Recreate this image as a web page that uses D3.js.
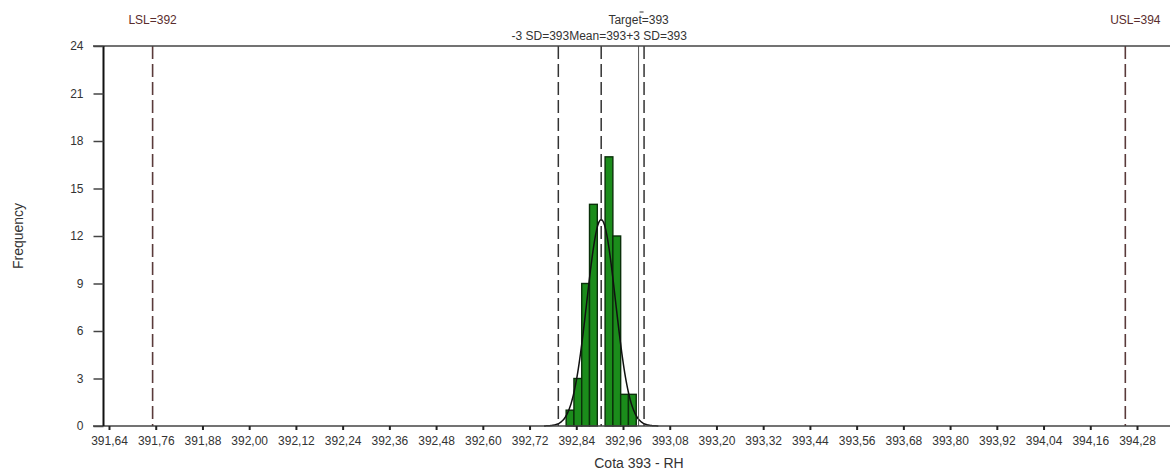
<!DOCTYPE html>
<html>
<head>
<meta charset="utf-8">
<script src="https://cdn.jsdelivr.net/npm/d3@7"></script>
<style>
  html, body { margin: 0; padding: 0; background: #fff; }
  svg { display: block; font-family: "Liberation Sans", Arial, sans-serif; }
</style>
</head>
<body>
<svg id="chart" width="1170" height="473"></svg>
<script>
// Histogram of "Cota 393 - RH" measurements
const binStart = 392.814;
const binWidth = 0.02;
const binCounts = [1, 3, 9, 14, 0, 17, 12, 2, 2];

// Process statistics and specification limits
const meanValue = 392.904;
const sdValue = 0.0367;
const lsl = 391.752;
const usl = 394.25;
const target = 393.0;

// Axis ticks
const xTicks = [391.64, 391.76, 391.88, 392.00, 392.12, 392.24, 392.36, 392.48,
  392.60, 392.72, 392.84, 392.96, 393.08, 393.20, 393.32, 393.44, 393.56,
  393.68, 393.80, 393.92, 394.04, 394.16, 394.28];
const yTicks = [0, 3, 6, 9, 12, 15, 18, 21, 24];

const svg = d3.select("#chart");
const W = 1170;

const x = d3.scaleLinear().domain([391.64, 394.28]).range([109, 1137]);
const y = d3.scaleLinear().domain([0, 24]).range([426, 46]);
const plotLeft = 103.5;
const plotTop = y(24), plotBottom = y(0);

const fmtInt = d3.format(".0f");
const fmtTick = v => d3.format(".2f")(v).replace(".", ",");

// Bars
const bins = binCounts.map((c, i) => ({ x0: binStart + i * binWidth, x1: binStart + (i + 1) * binWidth, count: c }));
svg.append("g").selectAll("rect")
  .data(bins.filter(b => b.count > 0))
  .join("rect")
  .attr("x", d => x(d.x0))
  .attr("width", d => x(d.x1) - x(d.x0))
  .attr("y", d => y(d.count))
  .attr("height", d => y(0) - y(d.count))
  .attr("fill", "#1b8c1b")
  .attr("stroke", "#0a300a")
  .attr("stroke-width", 1.4);

// Fitted normal curve scaled to the histogram
const total = d3.sum(binCounts);
const pdf = v => total * binWidth / (sdValue * Math.sqrt(2 * Math.PI)) * Math.exp(-0.5 * ((v - meanValue) / sdValue) ** 2);
const curveXs = d3.range(-4, 4.0001, 0.05).map(k => meanValue + k * sdValue);
svg.append("path")
  .datum(curveXs)
  .attr("fill", "none")
  .attr("stroke", "#111")
  .attr("stroke-width", 1.5)
  .attr("d", d3.line().x(v => x(v)).y(v => y(pdf(v))).curve(d3.curveBasis));

// Reference lines
const refLines = [
  { v: lsl, dash: "13,5", color: "#5a3a3a", w: 1.6 },
  { v: usl, dash: "13,5", color: "#5a3a3a", w: 1.6 },
  { v: meanValue - 3 * sdValue, dash: "13,5", color: "#333", w: 1.5 },
  { v: meanValue, dash: "13,5", color: "#333", w: 1.5 },
  { v: meanValue + 3 * sdValue, dash: "13,5", color: "#333", w: 1.5 },
  { v: target, dash: null, color: "#555", w: 1 }
];
svg.append("g").selectAll("line")
  .data(refLines)
  .join("line")
  .attr("x1", d => x(d.v)).attr("x2", d => x(d.v))
  .attr("y1", plotTop).attr("y2", plotBottom)
  .attr("stroke", d => d.color)
  .attr("stroke-width", d => d.w)
  .attr("stroke-dasharray", d => d.dash);

// Frame: top and bottom rules, left axis
svg.append("line").attr("x1", 93).attr("x2", W).attr("y1", plotTop).attr("y2", plotTop)
  .attr("stroke", "#444").attr("stroke-width", 1.5);
svg.append("line").attr("x1", 93).attr("x2", W).attr("y1", plotBottom).attr("y2", plotBottom)
  .attr("stroke", "#444").attr("stroke-width", 1.5);
svg.append("line").attr("x1", plotLeft).attr("x2", plotLeft).attr("y1", plotTop).attr("y2", plotBottom)
  .attr("stroke", "#111").attr("stroke-width", 2);

// Y axis
const yAxis = d3.axisLeft(y).tickValues(yTicks).tickSize(10).tickPadding(10).tickFormat(d3.format("d"));
const gy = svg.append("g").attr("transform", `translate(${plotLeft},0)`).call(yAxis);
gy.select(".domain").remove();
gy.selectAll(".tick line").attr("stroke", "#444").attr("stroke-width", 1.5);
gy.selectAll(".tick text").attr("font-size", 12).attr("fill", "#333")
  .attr("font-family", "Liberation Sans, Arial, sans-serif");

// X axis
const xAxis = d3.axisBottom(x).tickValues(xTicks).tickSize(4).tickPadding(6).tickFormat(fmtTick);
const gx = svg.append("g").attr("transform", `translate(0,${plotBottom})`).call(xAxis);
gx.select(".domain").remove();
gx.selectAll(".tick line").attr("stroke", "#222").attr("stroke-width", 2);
gx.selectAll(".tick text").attr("font-size", 12).attr("fill", "#333")
  .attr("font-family", "Liberation Sans, Arial, sans-serif");

// Axis titles
svg.append("text").attr("x", 639).attr("y", 468).attr("text-anchor", "middle")
  .attr("font-size", 14).attr("fill", "#333").text("Cota 393 - RH");
svg.append("text").attr("transform", `translate(23,${(plotTop + plotBottom) / 2}) rotate(-90)`)
  .attr("text-anchor", "middle").attr("font-size", 14).attr("fill", "#333").text("Frequency");

// Specification labels
svg.append("text").attr("x", x(lsl)).attr("y", 24).attr("text-anchor", "middle")
  .attr("font-size", 12).attr("fill", "#5a2d2d").text(`LSL=${fmtInt(lsl)}`);
svg.append("text").attr("x", x(usl) + 10).attr("y", 24).attr("text-anchor", "middle")
  .attr("font-size", 12).attr("fill", "#5a2d2d").text(`USL=${fmtInt(usl)}`);
svg.append("text").attr("x", x(target)).attr("y", 24).attr("text-anchor", "middle")
  .attr("font-size", 12).attr("fill", "#333").text(`Target=${fmtInt(target)}`);
svg.append("line").attr("x1", x(target) + 1).attr("x2", x(target) + 5).attr("y1", 12).attr("y2", 12)
  .attr("stroke", "#333").attr("stroke-width", 1);

// Statistic labels packed side by side around the three lines
const statVals = [meanValue - 3 * sdValue, meanValue, meanValue + 3 * sdValue];
const statLabels = [`-3 SD=${fmtInt(statVals[0])}`, `Mean=${fmtInt(statVals[1])}`, `+3 SD=${fmtInt(statVals[2])}`];
svg.append("text").attr("x", d3.mean(statVals, x) - 2).attr("y", 40).attr("text-anchor", "middle")
  .attr("font-size", 12).attr("fill", "#333")
  .selectAll("tspan").data(statLabels).join("tspan").text(d => d);
</script>
</body>
</html>
